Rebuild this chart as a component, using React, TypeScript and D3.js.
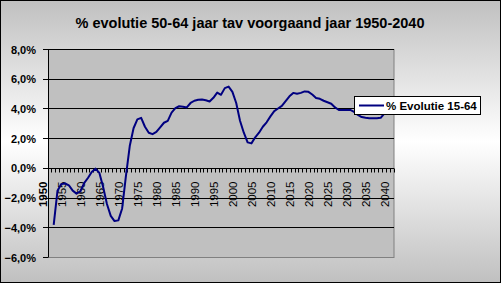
import React from "react";
import * as d3 from "d3";

const title = "% evolutie 50-64 jaar tav voorgaand jaar 1950-2040";
const seriesName = "% Evolutie 15-64";
const firstYear = 1950;
const lastYear = 2040;
const dataYears: number[] = d3.range(1951, 2041);
const values: number[] = [
  -3.8, -1.5, -1.05, -1.02, -1.15, -1.5, -1.7, -1.55, -1.0, -0.65,
  -0.25, -0.02, -0.3, -1.25, -2.4, -3.2, -3.55, -3.5, -2.7, -0.5,
  1.5, 2.7, 3.3, 3.4, 2.8, 2.4, 2.3, 2.45, 2.76, 3.07,
  3.2, 3.75, 4.05, 4.18, 4.15, 4.1, 4.4, 4.55, 4.62, 4.63,
  4.58, 4.5, 4.75, 5.1, 4.95, 5.4, 5.5, 5.15, 4.4, 3.2,
  2.4, 1.75, 1.68, 2.09, 2.4, 2.8, 3.1, 3.5, 3.85, 4.03,
  4.2, 4.53, 4.85, 5.08, 5.02, 5.08, 5.18, 5.15, 4.97, 4.74,
  4.68, 4.55, 4.45, 4.35, 4.1, 3.93, 3.93, 3.93, 3.93, 3.8,
  3.6, 3.45, 3.4, 3.38, 3.38, 3.38, 3.4, 3.7, 3.9, 4.0,
];
const yTicks: number[] = [-6, -4, -2, 0, 2, 4, 6, 8];
const labelYears: number[] = d3.range(1950, 2041, 5);

const W = 501;
const H = 283;
const font = "'Liberation Sans', Arial, sans-serif";

export default function App() {
  const left = 48, right = 394, top = 49.5, bottom = 257.5;
  const categories = d3.range(firstYear, lastYear + 1).map(String);
  const x = d3.scaleBand<string>().domain(categories).range([left, right]).padding(0);
  const bw = x.bandwidth();
  const cx = (yr: number) => (x(String(yr)) as number) + bw / 2;
  const y = d3.scaleLinear().domain([-6, 8]).range([bottom, top]);
  const crisp = (v: number) => Math.round(v - 0.5) + 0.5;
  const zeroY = crisp(y(0));

  const line = d3
    .line<number>()
    .x((_, i) => cx(dataYears[i]))
    .y((d) => y(d))
    .curve(d3.curveLinear);

  const boundaries = d3.range(0, categories.length + 1).map((i) => left + i * bw);

  return (
    <svg
      width={W}
      height={H}
      style={{ position: "fixed", left: 0, top: 0, display: "block" }}
      fontFamily={font}
    >
      <defs>
        <linearGradient id="bg" x1="0" y1="0" x2="0" y2="1">
          <stop offset="0" stopColor="#c0c0c0" />
          <stop offset="0.5" stopColor="#ffffff" />
          <stop offset="1" stopColor="#c0c0c0" />
        </linearGradient>
      </defs>
      <rect x={0.5} y={0.5} width={W - 1} height={H - 1} fill="url(#bg)" stroke="#000" strokeWidth={1} />
      <text x={250} y={28} textAnchor="middle" fontWeight="bold" fontSize={14.5} fill="#000">
        {title}
      </text>

      {/* plot area */}
      <rect
        x={left + 0.5}
        y={top}
        width={right - left - 0.5}
        height={bottom - top}
        fill="#c0c0c0"
        stroke="#808080"
        strokeWidth={1}
      />
      {yTicks
        .filter((t) => t > -6)
        .map((t) => (
          <line key={"g" + t} x1={left} x2={right} y1={crisp(y(t))} y2={crisp(y(t))} stroke="#000" strokeWidth={1} />
        ))}
      {/* y axis */}
      <line x1={left + 0.5} x2={left + 0.5} y1={top} y2={bottom} stroke="#000" strokeWidth={1} />
      {yTicks.map((t) => (
        <g key={"yt" + t}>
          <line x1={left - 5} x2={left} y1={crisp(y(t))} y2={crisp(y(t))} stroke="#000" strokeWidth={1} />
          <text x={36} y={y(t) + 4} textAnchor="end" fontWeight="bold" fontSize={11} fill="#000">
            {d3.format(".1f")(t).replace(".", ",") + "%"}
          </text>
        </g>
      ))}
      {/* x axis at zero */}
      <line x1={left} x2={right} y1={zeroY} y2={zeroY} stroke="#000" strokeWidth={1} />
      {boundaries.map((bx, i) => (
        <line key={"xt" + i} x1={crisp(bx)} x2={crisp(bx)} y1={zeroY} y2={zeroY + 4} stroke="#000" strokeWidth={1} />
      ))}
      {labelYears.map((yr) => (
        <text
          key={"xl" + yr}
          transform={`translate(${cx(yr) - 2.7},181.5) rotate(-90)`}
          textAnchor="end"
          fontSize={11.5}
          fontWeight={yr === 1950 ? "bold" : "normal"}
          fill="#000"
        >
          {yr}
        </text>
      ))}

      <path d={line(values) || ""} fill="none" stroke="#000080" strokeWidth={2} strokeLinejoin="round" />

      {/* legend */}
      <rect x={354.5} y={96.5} width={126} height={18} fill="#fff" stroke="#000" strokeWidth={1} />
      <line x1={359} x2={384} y1={105.5} y2={105.5} stroke="#000080" strokeWidth={2} />
      <text x={386} y={109.5} fontSize={11.5} fontWeight="bold" fill="#000">
        {seriesName}
      </text>
    </svg>
  );
}
